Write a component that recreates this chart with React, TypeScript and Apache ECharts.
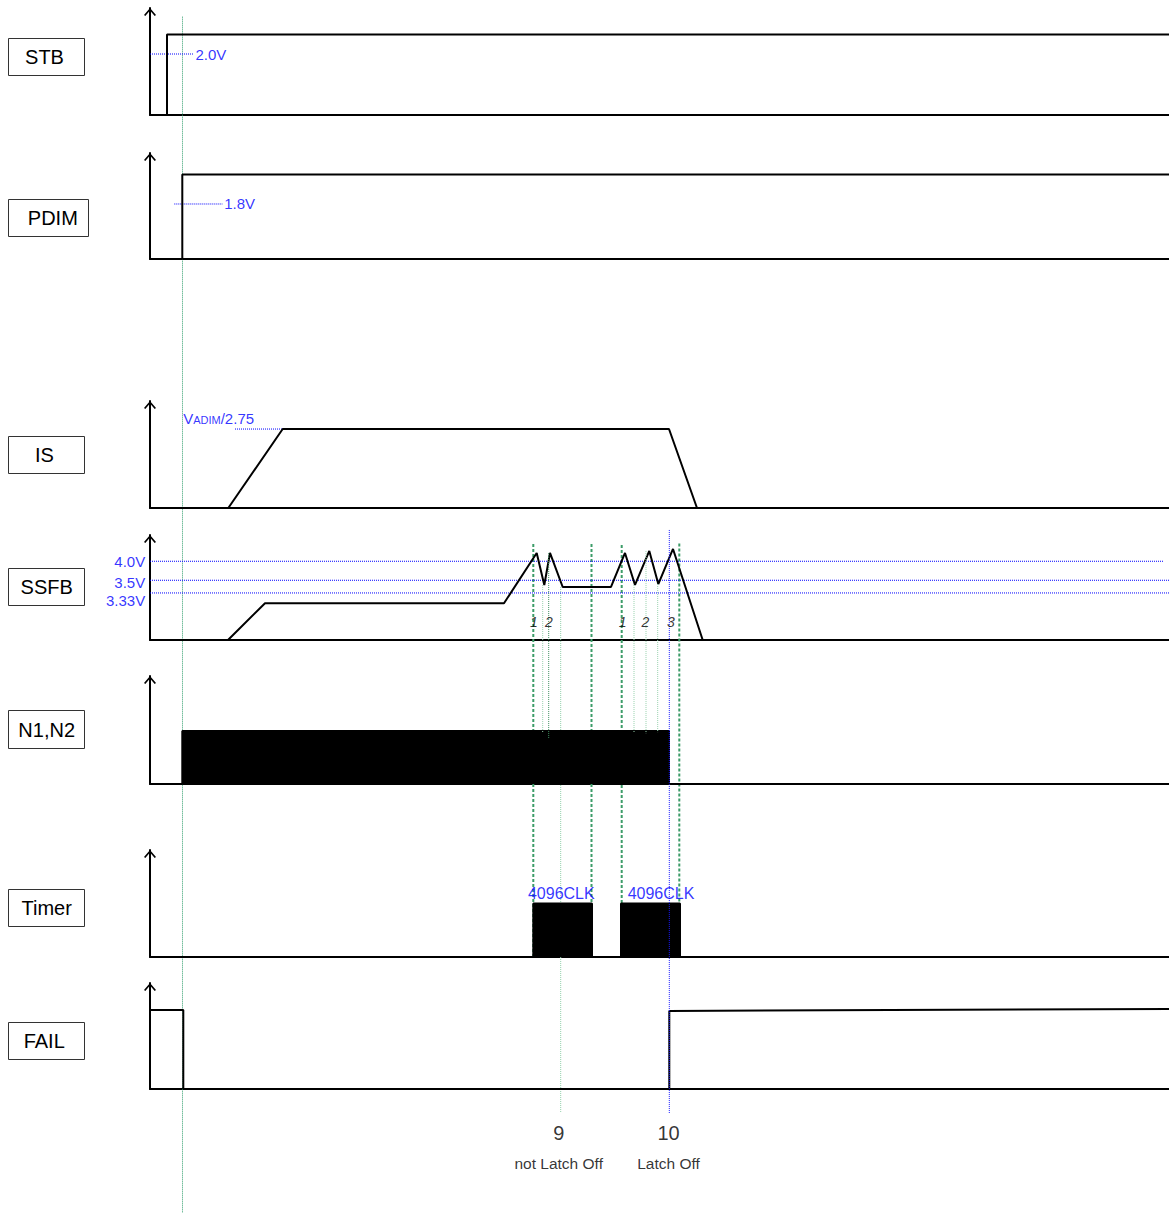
import React, { useEffect, useRef } from "react";
import * as echarts from "echarts";

// ---------- data (time units along the x axis, levels as fraction of each panel's axis) ----------
const T_MAX = 1019;

const panelNames = ["STB", "PDIM", "IS", "SSFB", "N1,N2", "Timer", "FAIL"];

const stbWave = [[0, 0], [17, 0], [17, 0.752], [1019, 0.752]];
const pdimWave = [[0, 0], [32.3, 0], [32.3, 0.797], [1019, 0.797]];
const isWave = [[0, 0], [78.3, 0], [132.7, 0.738], [519, 0.738], [547, 0], [1019, 0]];
const ssfbWave = [
  [0, 0], [78, 0], [115, 0.35], [354, 0.35], [386.7, 0.829], [394.3, 0.524], [400, 0.829],
  [412.7, 0.505], [461, 0.505], [475, 0.829], [485, 0.524], [499.3, 0.848], [508.3, 0.533],
  [523, 0.867], [552.7, 0], [1019, 0],
];
const n1n2Wave = [[0, 0], [32.3, 0], [32.3, 0.49], [519, 0.49], [519, 0], [1019, 0]];
const timerWave = [
  [0, 0], [383.3, 0], [383.3, 0.5], [442, 0.5], [442, 0], [471, 0], [471, 0.5], [530, 0.5], [530, 0], [1019, 0],
];
const failWave = [[0, 0.745], [33.3, 0.745], [33.3, 0], [519.3, 0], [519.3, 0.736], [1019, 0.755]];

const waves = [stbWave, pdimWave, isWave, ssfbWave, n1n2Wave, timerWave, failWave];
const filledPanels = [false, false, false, false, true, true, false];

// threshold (dotted blue) lines: panel, level, time range
const thresholds = [
  { panel: 0, level: 0.57, from: 0, to: 43 },
  { panel: 1, level: 0.519, from: 24.3, to: 72.7 },
  { panel: 2, level: 0.738, from: 85, to: 132.7 },
  { panel: 3, level: 0.75, from: 0, to: 1013.5 },
  { panel: 3, level: 0.569, from: 0, to: 1019 },
  { panel: 3, level: 0.448, from: 0, to: 1019 },
];

// vertical marker lines: time, start [panel, level], end [panel, level]
const markers = [
  { t: 32.5, from: [0, 0.919], to: [6, -1.17], kind: "main" },
  { t: 383.3, from: [3, 0.914], to: [5, 0], kind: "dash" },
  { t: 441.5, from: [3, 0.914], to: [5, 0], kind: "dash" },
  { t: 471.7, from: [3, 0.905], to: [5, 0], kind: "dash" },
  { t: 529.3, from: [3, 0.92], to: [5, 0], kind: "dash" },
  { t: 392.7, from: [3, 0.524], to: [4, 0.48], kind: "thin" },
  { t: 398.7, from: [3, 0.829], to: [4, 0.425], kind: "thinDark" },
  { t: 410.7, from: [3, 0.505], to: [6, -0.226], kind: "thinBack" },
  { t: 484, from: [3, 0.524], to: [4, 0.48], kind: "thin" },
  { t: 496, from: [3, 0.848], to: [4, 0.47], kind: "thin" },
  { t: 507.7, from: [3, 0.533], to: [4, 0.48], kind: "thin" },
  { t: 519.3, from: [3, 1.048], to: [6, -0.226], kind: "blue" },
];

// text annotations
const voltLabels = ["2.0V", "1.8V", "4.0V", "3.5V", "3.33V"];
const pulseNumbers = ["1", "2", "1", "2", "3"];
const pulseNumberTimes = [384, 399, 472.7, 495.3, 521];
const timerLabels = ["4096CLK", "4096CLK"];
const timerLabelTimes = [411.3, 511];
const eventNumbers = ["9", "10"];
const eventTexts = ["not Latch Off", "Latch Off"];
const eventTimes = [408.7, 518.5];

// ---------- layout ----------
const W = 1169;
const H = 1213;
const AXIS_X = 150;
const panelTop = [8, 153, 401, 535, 676, 850, 983];
const panelBase = [115, 259, 508, 640, 784, 957, 1089];
const boxes = [
  { x: 8.5, y: 38.5, w: 76, h: 37, tx: 44.5 },
  { x: 8.5, y: 199.5, w: 80, h: 37, tx: 52.8 },
  { x: 8.5, y: 436.5, w: 76, h: 37, tx: 44.5 },
  { x: 8.5, y: 568.5, w: 76, h: 37, tx: 46.7 },
  { x: 8.5, y: 710.5, w: 76, h: 38, tx: 46.7 },
  { x: 8.5, y: 889.5, w: 76, h: 37, tx: 46.7 },
  { x: 8.5, y: 1022.5, w: 76, h: 37, tx: 44.2 },
];

const FONT = '"Liberation Sans", Arial, Helvetica, sans-serif';
const BLUE = "#0000ff";
const ARROW = "path://M6,0 L12,7 L10.7,8 L6,2.5 L1.3,8 L0,7 Z";

const pageY = (p: number[]) => {
  const [panel, level] = p;
  const top = panelTop[panel];
  const base = panelBase[panel];
  return base - level * (base - top);
};

const markerStyle: Record<string, any> = {
  main: { color: "#2f9d6c", width: 1, type: [1, 1], z: 1 },
  dash: { color: "#3c9c68", width: 2, type: [3, 2], z: 1 },
  thin: { color: "#98d2ae", width: 1, type: [1, 1], z: 4 },
  thinBack: { color: "#8fcfa8", width: 1, type: [1, 1], z: 1 },
  thinDark: { color: "#3f8f5f", width: 1, type: [1, 1], z: 4 },
  blue: { color: "#1a1aff", width: 1, type: [1, 1], z: 5 },
};

function textPoint(t: number, level: number, text: any, label: any) {
  return {
    value: [t, level],
    label: { show: true, formatter: text, fontFamily: FONT, ...label },
  };
}

function buildOption() {
  const grid: any[] = [];
  const xAxis: any[] = [];
  const yAxis: any[] = [];
  const series: any[] = [];

  panelTop.forEach((top, i) => {
    const base = panelBase[i];
    grid.push({ left: AXIS_X, right: 0, top, height: base - top });
    xAxis.push({
      gridIndex: i, type: "value", min: 0, max: T_MAX,
      axisLine: { show: true, onZero: false, lineStyle: { color: "#000", width: 2 } },
      axisTick: { show: false }, axisLabel: { show: false }, splitLine: { show: false },
    });
    yAxis.push({
      gridIndex: i, type: "value", min: 0, max: 1,
      axisLine: {
        show: true, onZero: false, symbol: ["none", ARROW], symbolSize: [12, 8], symbolOffset: [0, -4],
        lineStyle: { color: "#000", width: 2 },
      },
      axisTick: { show: false }, axisLabel: { show: false }, splitLine: { show: false },
    });
  });

  // overlay grid for vertical markers spanning panels
  const OV = panelTop.length;
  grid.push({ left: AXIS_X, right: 0, top: 0, height: H });
  xAxis.push({ gridIndex: OV, type: "value", min: 0, max: T_MAX, show: false });
  yAxis.push({ gridIndex: OV, type: "value", min: 0, max: H, inverse: true, show: false });

  waves.forEach((wave, i) => {
    series.push({
      type: "line", xAxisIndex: i, yAxisIndex: i, data: wave, symbol: "none", silent: true, clip: false,
      lineStyle: { color: "#000", width: 2 },
      areaStyle: filledPanels[i] ? { color: "#000", opacity: 1 } : undefined,
      z: 3,
    });
  });

  thresholds.forEach((th) => {
    series.push({
      type: "line", xAxisIndex: th.panel, yAxisIndex: th.panel, symbol: "none", silent: true,
      data: [[th.from, th.level], [th.to, th.level]],
      lineStyle: { color: BLUE, width: 1, type: [1, 1] }, z: 2,
    });
  });

  markers.forEach((m) => {
    const s = markerStyle[m.kind];
    series.push({
      type: "line", xAxisIndex: OV, yAxisIndex: OV, symbol: "none", silent: true,
      data: [[m.t, pageY(m.from)], [m.t, pageY(m.to)]],
      lineStyle: { color: s.color, width: s.width, type: s.type }, z: s.z,
    });
  });

  const blueLabel = { color: BLUE, fontSize: 15 };
  const annotations: any[][] = [[], [], [], [], [], [], []];
  annotations[0].push(textPoint(thresholds[0].to, thresholds[0].level, voltLabels[0], { ...blueLabel, position: "right", distance: 2 }));
  annotations[1].push(textPoint(thresholds[1].to, thresholds[1].level, voltLabels[1], { ...blueLabel, position: "right", distance: 1 }));
  annotations[2].push(
    textPoint(32.7, 0.85, "{v|V}{s|ADIM}{v|/2.75}", {
      position: "right", distance: 0,
      rich: {
        v: { color: BLUE, fontSize: 15, fontFamily: FONT, verticalAlign: "bottom", lineHeight: 17 },
        s: { color: BLUE, fontSize: 11, fontFamily: FONT, verticalAlign: "bottom", lineHeight: 14 },
      },
    })
  );
  const ssfbLabelDy = [0.4, 2.4, 7.7];
  [3, 4, 5].forEach((k, j) => {
    const th = thresholds[k];
    annotations[3].push(textPoint(0, th.level, voltLabels[j + 2], { ...blueLabel, position: "left", distance: 4.3, offset: [0, ssfbLabelDy[j]] }));
  });
  pulseNumbers.forEach((n, j) => {
    annotations[3].push(textPoint(pulseNumberTimes[j], 0.171, n, { position: "inside", color: "#000", fontSize: 14, fontStyle: "italic" }));
  });
  timerLabels.forEach((tx, j) => {
    annotations[5].push(textPoint(timerLabelTimes[j], 0.593, tx, { position: "inside", color: BLUE, fontSize: 16 }));
  });
  eventNumbers.forEach((n, j) => {
    annotations[6].push(textPoint(eventTimes[j], -0.412, n, { position: "inside", color: "#000", fontSize: 20 }));
    annotations[6].push(textPoint(eventTimes[j], -0.701, eventTexts[j], { position: "inside", color: "#000", fontSize: 15.5 }));
  });
  annotations.forEach((items, i) => {
    if (!items.length) return;
    series.push({
      type: "scatter", xAxisIndex: i, yAxisIndex: i, data: items, symbolSize: 1, clip: false, silent: true,
      itemStyle: { color: "rgba(0,0,0,0)" }, z: 6,
    });
  });

  const graphic = boxes.map((b, i) => ({
    type: "group",
    children: [
      { type: "rect", shape: { x: b.x, y: b.y, width: b.w, height: b.h }, style: { fill: "#fff", stroke: "#333", lineWidth: 1 } },
      {
        type: "text", x: b.tx, y: b.y + b.h / 2,
        style: {
          text: panelNames[i], fill: "#000", font: `20px ${FONT}`,
          textAlign: "center", align: "center", textVerticalAlign: "middle", verticalAlign: "middle",
        },
      },
    ],
  }));

  return {
    animation: false,
    backgroundColor: "#fff",
    grid, xAxis, yAxis, series, graphic,
  };
}

export default function App() {
  const ref = useRef<HTMLDivElement>(null);
  useEffect(() => {
    const chart = echarts.init(ref.current as HTMLDivElement, null, { renderer: "svg" });
    chart.setOption(buildOption() as any);
    return () => chart.dispose();
  }, []);
  return (
    <div
      ref={ref}
      style={{ position: "absolute", left: 0, top: 0, width: W, height: H, background: "#fff" }}
    />
  );
}
